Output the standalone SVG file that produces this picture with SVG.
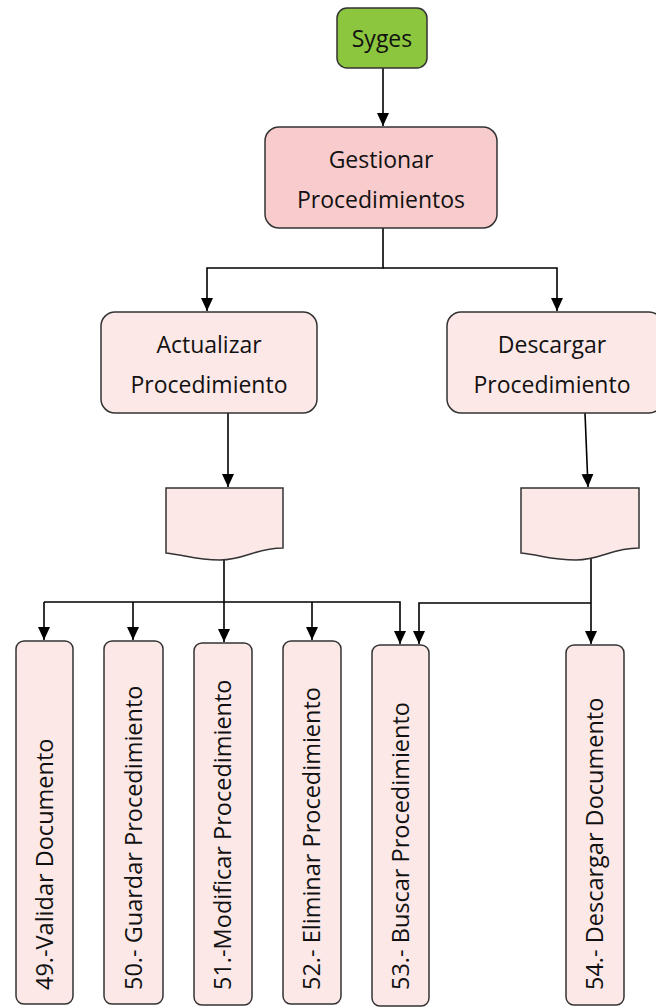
<svg xmlns="http://www.w3.org/2000/svg" width="656" height="1007" viewBox="0 0 656 1007">
<defs>
<marker id="arr" markerWidth="14" markerHeight="14" refX="13" refY="7" orient="auto" markerUnits="userSpaceOnUse">
<path d="M0,1 L13,7 L0,13 Z" fill="#000"/>
</marker>
</defs>
<style>
.box{fill:#fde8e8;stroke:#333;stroke-width:1.5}
.t{font-family:"Open Sans","DejaVu Sans",sans-serif;font-size:23px;fill:#111;text-anchor:middle}
.v{font-family:"Open Sans","DejaVu Sans",sans-serif;font-size:23.5px;fill:#111}
.c{fill:none;stroke:#000;stroke-width:1.6}
</style>
<rect width="656" height="1007" fill="#fff"/>
<g id="connectors">
<path class="c" d="M383,68 V126" marker-end="url(#arr)"/>
<path class="c" d="M383,228 V268 H207 V311" marker-end="url(#arr)"/>
<path class="c" d="M383,268 H557 V311" marker-end="url(#arr)"/>
<path class="c" d="M228,413 V487" marker-end="url(#arr)"/>
<path class="c" d="M585,413 L588,487" marker-end="url(#arr)"/>
<path class="c" d="M224,558 V602"/>
<path class="c" d="M44,602 H400 V644" marker-end="url(#arr)"/>
<path class="c" d="M44,602 V640" marker-end="url(#arr)"/>
<path class="c" d="M133,602 V640" marker-end="url(#arr)"/>
<path class="c" d="M224,602 V642" marker-end="url(#arr)"/>
<path class="c" d="M312,602 V640" marker-end="url(#arr)"/>
<path class="c" d="M591,553 V644" marker-end="url(#arr)"/>
<path class="c" d="M591,603 H419 V644" marker-end="url(#arr)"/>
</g>
<g id="syges">
<rect x="337" y="8" width="90" height="60" rx="10" fill="#8cc63e" stroke="#333" stroke-width="1.5"/>
<text class="t" x="382" y="47">Syges</text>
</g>
<g id="gestionar">
<rect x="265" y="127" width="232" height="101" rx="14" fill="#f8cccc" stroke="#333" stroke-width="1.5"/>
<text class="t" x="381" y="168">Gestionar</text>
<text class="t" x="381" y="208">Procedimientos</text>
</g>
<g id="actualizar">
<rect class="box" x="101" y="312" width="216" height="101" rx="14"/>
<text class="t" x="209" y="353">Actualizar</text>
<text class="t" x="209" y="393">Procedimiento</text>
</g>
<g id="descargar">
<rect class="box" x="447" y="312" width="216" height="101" rx="14"/>
<text class="t" x="552" y="353">Descargar</text>
<text class="t" x="552" y="393">Procedimiento</text>
</g>
<g id="doc1">
<path class="box" d="M166,488 H283 V548 C255,548 245,560 220,560 C195,560 185,555 166,553 Z"/>
</g>
<g id="doc2">
<path class="box" d="M521,488 H639 V548 C611,548 601,560 576,560 C551,560 541,555 521,553 Z"/>
</g>
<g id="n49">
<rect class="box" x="16" y="641" width="57" height="363" rx="8"/>
<text class="v" transform="translate(53,990) rotate(-90)">49.-Validar Documento</text>
</g>
<g id="n50">
<rect class="box" x="104" y="641" width="59" height="363" rx="8"/>
<text class="v" transform="translate(142,990) rotate(-90)">50.- Guardar Procedimiento</text>
</g>
<g id="n51">
<rect class="box" x="194" y="643" width="58" height="362" rx="8"/>
<text class="v" transform="translate(231,990) rotate(-90)">51.-Modificar Procedimiento</text>
</g>
<g id="n52">
<rect class="box" x="283" y="641" width="58" height="363" rx="8"/>
<text class="v" transform="translate(320,990) rotate(-90)">52.- Eliminar Procedimiento</text>
</g>
<g id="n53">
<rect class="box" x="372" y="645" width="57" height="361" rx="8"/>
<text class="v" transform="translate(409,990) rotate(-90)">53.- Buscar Procedimiento</text>
</g>
<g id="n54">
<rect class="box" x="566" y="645" width="58" height="360" rx="8"/>
<text class="v" transform="translate(603,990) rotate(-90)">54.- Descargar Documento</text>
</g>
</svg>
